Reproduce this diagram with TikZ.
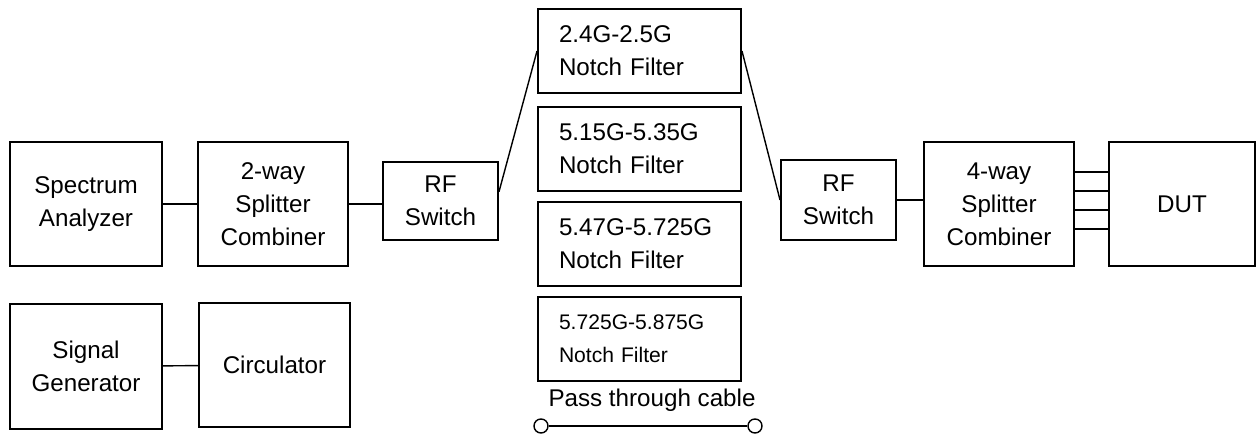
\documentclass[tikz,border=0pt]{standalone}
\usepackage{fontspec}
\setmainfont{Liberation Sans}
\usetikzlibrary{calc}
\begin{document}
\begin{tikzpicture}[
      every node/.style={font=\fontsize{17.2}{23.5}\selectfont},
      block/.style={draw, line width=1.4pt, minimum height=3.1cm, minimum width=3.75cm, align=center},
      switch/.style={draw, line width=1.4pt, minimum height=1.95cm, minimum width=2.875cm, align=center},
      notch/.style={draw, line width=1.4pt, minimum height=2.1cm, text width=4.025cm, inner xsep=0.525cm, align=left},
      port/.style={draw, circle, line width=1pt, inner sep=0pt, minimum size=0.35cm},
      wire/.style={line width=1pt},
    ]
    \useasboundingbox (0,0) rectangle (31.4,10.925);

    \node[block, minimum width=3.8cm] (analyzer) at (2.15,5.825) {Spectrum\\Analyzer};
    \node[block] (split2) at (6.825,5.825) {2-way\\Splitter\\Combiner};
    \node[switch] (swA) at (11.0125,5.9) {RF\\Switch};

    \node[notch] (nf1) at (15.9875,9.65) {2.4G-2.5G\\Notch Filter};
    \node[notch] (nf2) at (15.9875,7.2) {5.15G-5.35G\\Notch Filter};
    \node[notch] (nf3) at (15.9875,4.825) {5.47G-5.725G\\Notch Filter};
    \node[notch, font=\fontsize{15}{23.5}\selectfont] (nf4) at (15.9875,2.45) {5.725G-5.875G\\Notch Filter};

    \node[switch, minimum height=2cm] (swB) at (20.9625,5.925) {RF\\Switch};
    \node[block] (split4) at (24.975,5.825) {4-way\\Splitter\\Combiner};
    \node[block, minimum width=3.65cm] (dut) at (29.55,5.825) {DUT};

    \node[block, minimum width=3.8cm, minimum height=3.125cm] (siggen) at (2.15,1.7625) {Signal\\Generator};
    \node[block, minimum width=3.775cm] (circ) at (6.8625,1.8) {Circulator};

    \node (cable) at (16.3,0.925) {Pass through cable};
    \node[port] (portA) at (13.525,0.275) {};
    \node[port] (portB) at (18.875,0.275) {};

    \draw[wire] (analyzer) -- (split2);
    \draw[wire] (split2.east) -- (split2.east -| swA.west);
    \draw[wire] (swA.9) -- (nf1.west);
    \draw[wire] (nf1.east) -- (swB.west);
    \draw[wire] (swB.east) -- (swB.east -| split4.west);
    \foreach \dy in {0.8,0.325,-0.15,-0.625}
      \draw[wire] ($(split4.east)+(0,\dy)$) -- ($(dut.west)+(0,\dy)$);
    \draw[wire] (siggen) -- (circ);
    \draw[wire] (portA) -- (portB);

  \end{tikzpicture}
\end{document}
